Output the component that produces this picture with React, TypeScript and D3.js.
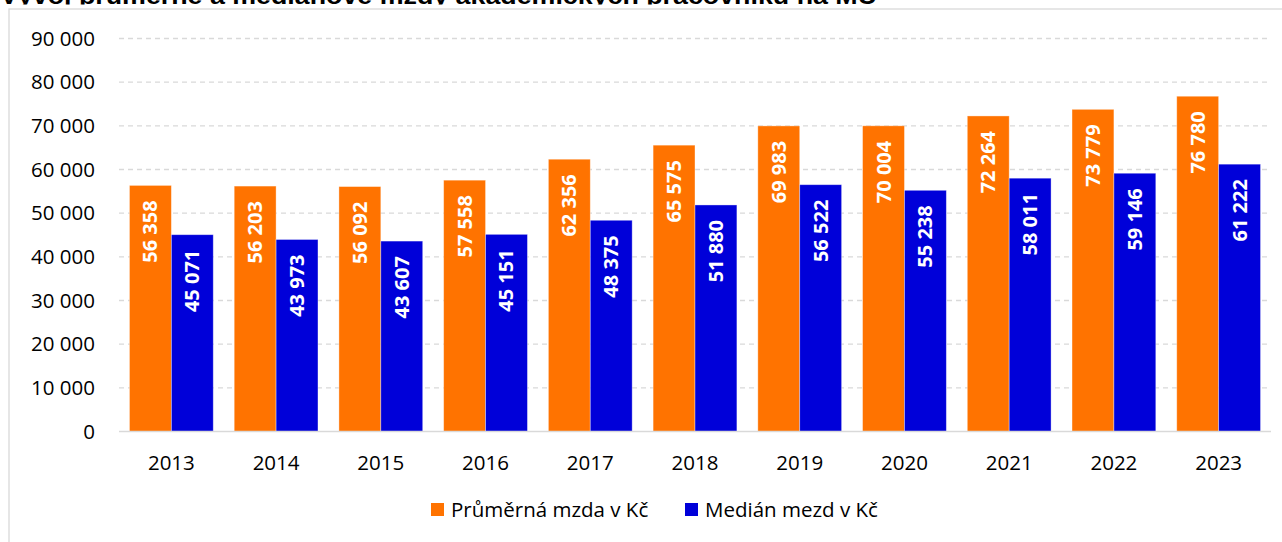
import React, { useEffect, useRef } from 'react';
import * as d3 from 'd3';

const years = ['2013', '2014', '2015', '2016', '2017', '2018', '2019', '2020', '2021', '2022', '2023'];
const prumer = [56358, 56203, 56092, 57558, 62356, 65575, 69983, 70004, 72264, 73779, 76780];
const median = [45071, 43973, 43607, 45151, 48375, 51880, 56522, 55238, 58011, 59146, 61222];
const yTicks = [0, 10000, 20000, 30000, 40000, 50000, 60000, 70000, 80000, 90000];
const seriesNames = ['Průměrná mzda v Kč', 'Medián mezd v Kč'];
const title = 'Vývoj průměrné a mediánové mzdy akademických pracovníků na MU';

const ORANGE = '#ff7300';
const BLUE = '#0000d9';
const FONT = '"Open Sans", "Noto Sans", sans-serif';

export default function App() {
  const ref = useRef<SVGSVGElement>(null);

  useEffect(() => {
    const svg = d3.select(ref.current);
    svg.selectAll('*').remove();

    const width = 1282;
    const height = 542;
    const left = 119, right = 1271, top = 38.5, bottom = 431.5;

    const locale = d3.formatLocale({ decimal: ',', thousands: ' ', grouping: [3], currency: ['', ''] });
    const fmt = locale.format(',');

    // title, clipped - only its lower part shows above the frame
    svg.append('defs').append('clipPath').attr('id', 'titleClip')
      .append('rect').attr('x', 0).attr('y', 0).attr('width', width).attr('height', 4.5);
    svg.append('text')
      .attr('clip-path', 'url(#titleClip)')
      .attr('x', 0)
      .attr('y', 4)
      .attr('font-family', '"Liberation Sans", Arial, sans-serif')
      .attr('font-weight', 'bold')
      .attr('font-size', 23)
      .attr('textLength', 877)
      .attr('lengthAdjust', 'spacingAndGlyphs')
      .attr('fill', '#000')
      .text(title);

    // chart frame
    svg.append('rect')
      .attr('x', 9).attr('y', 9)
      .attr('width', 1400).attr('height', 700)
      .attr('fill', '#fff')
      .attr('stroke', '#d9d9d9')
      .attr('stroke-width', 1.3);

    const x0 = d3.scaleBand().domain(years).range([left, right]).paddingInner(0.2).paddingOuter(0.1);
    const x1 = d3.scaleBand().domain(['p', 'm']).range([0, x0.bandwidth()]);
    const y = d3.scaleLinear().domain([0, 90000]).range([bottom, top]);

    // gridlines
    svg.append('g').selectAll('line')
      .data(yTicks.filter(d => d > 0))
      .enter().append('line')
      .attr('x1', left).attr('x2', right)
      .attr('y1', d => y(d)).attr('y2', d => y(d))
      .attr('stroke', '#d9d9d9')
      .attr('stroke-width', 1.3)
      .attr('stroke-dasharray', '5,4');

    // y labels
    svg.append('g').selectAll('text')
      .data(yTicks)
      .enter().append('text')
      .attr('x', 95)
      .attr('y', d => y(d))
      .attr('dy', '0.35em')
      .attr('text-anchor', 'end')
      .attr('font-family', FONT)
      .attr('font-size', 20.5)
      .attr('fill', '#000')
      .text(d => fmt(d));

    // bars
    const groups = svg.append('g').selectAll('g')
      .data(years)
      .enter().append('g')
      .attr('transform', d => 'translate(' + x0(d) + ',0)');

    const rows = [
      { key: 'p', values: prumer, color: ORANGE },
      { key: 'm', values: median, color: BLUE },
    ];

    rows.forEach(r => {
      groups.append('rect')
        .attr('x', x1(r.key)!)
        .attr('width', x1.bandwidth())
        .attr('y', (d, i) => y(r.values[i]))
        .attr('height', (d, i) => bottom - y(r.values[i]))
        .attr('fill', r.color)
        .attr('stroke', 'rgba(255,255,255,0.45)')
        .attr('stroke-width', 0.8);

      groups.append('text')
        .attr('transform', (d, i) => {
          const cx = x1(r.key)! + x1.bandwidth() / 2;
          return 'translate(' + cx + ',' + (y(r.values[i]) + 15) + ') rotate(-90)';
        })
        .attr('text-anchor', 'end')
        .attr('dy', '0.35em')
        .attr('font-family', FONT)
        .attr('font-weight', 'bold')
        .attr('font-size', 20)
        .attr('fill', '#fff')
        .text((d, i) => fmt(r.values[i]));
    });

    // baseline
    svg.append('line')
      .attr('x1', left).attr('x2', right)
      .attr('y1', bottom).attr('y2', bottom)
      .attr('stroke', '#d9d9d9')
      .attr('stroke-width', 1.5);

    // x labels
    svg.append('g').selectAll('text')
      .data(years)
      .enter().append('text')
      .attr('x', d => x0(d)! + x0.bandwidth() / 2)
      .attr('y', 463)
      .attr('dy', '0.35em')
      .attr('text-anchor', 'middle')
      .attr('font-family', FONT)
      .attr('font-size', 20.5)
      .attr('fill', '#000')
      .text(d => d);

    // legend
    const legendX = [431, 685];
    const legend = svg.append('g').selectAll('g')
      .data(seriesNames)
      .enter().append('g')
      .attr('transform', (d, i) => 'translate(' + legendX[i] + ',503)');
    legend.append('rect')
      .attr('width', 13).attr('height', 13)
      .attr('fill', (d, i) => rows[i].color);
    legend.append('text')
      .attr('x', 20)
      .attr('y', 7)
      .attr('dy', '0.35em')
      .attr('font-family', FONT)
      .attr('font-size', 20.5)
      .attr('fill', '#000')
      .text(d => d);

    svg.attr('width', width).attr('height', height);
  }, []);

  return (
    <svg ref={ref} width={1282} height={542}
      style={{ position: 'absolute', left: 0, top: 0, background: '#fff' }} />
  );
}
